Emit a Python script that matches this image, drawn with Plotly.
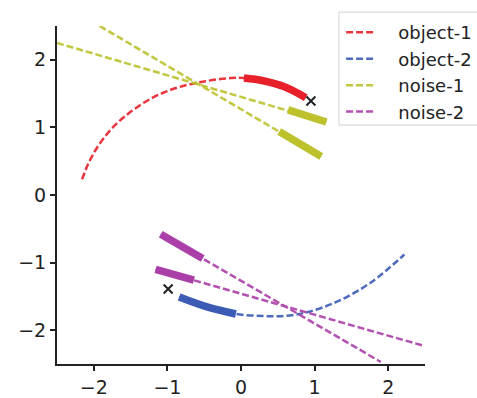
import plotly.graph_objects as go

# ---- data ----
obj1_x = [-2.16, -2.08, -1.95, -1.75, -1.5, -1.2, -0.86, -0.5, -0.14, 0.04, 0.3, 0.59, 0.88]
obj1_y = [0.23, 0.45, 0.71, 0.99, 1.23, 1.44, 1.59, 1.68, 1.73, 1.73, 1.69, 1.60, 1.44]
obj1_trk_x = [0.04, 0.3, 0.59, 0.88]
obj1_trk_y = [1.73, 1.69, 1.60, 1.44]
obj1_end = (0.95, 1.39)

obj2_x = [-0.84, -0.45, -0.07, 0.3, 0.59, 0.91, 1.32, 1.77, 2.22]
obj2_y = [-1.51, -1.66, -1.76, -1.79, -1.79, -1.73, -1.57, -1.29, -0.88]
obj2_trk_x = [-0.84, -0.45, -0.07]
obj2_trk_y = [-1.51, -1.66, -1.76]
obj2_end = (-0.99, -1.39)

noise1_x = [-2.5, 1.16, None, -1.92, 1.09]
noise1_y = [2.25, 1.08, None, 2.5, 0.57]
noise1_trk_x = [0.64, 1.16, None, 0.52, 1.09]
noise1_trk_y = [1.26, 1.08, None, 0.94, 0.57]

noise2_x = [-1.09, 1.9, None, -1.16, 2.48]
noise2_y = [-0.58, -2.47, None, -1.10, -2.23]
noise2_trk_x = [-1.09, -0.52, None, -1.16, -0.64]
noise2_trk_y = [-0.58, -0.94, None, -1.10, -1.26]

ticks = [-2, -1, 0, 1, 2]
tick_text = ["\u22122", "\u22121", "0", "1", "2"]

RED = "#e8202a"
BLUE = "#3b5bb5"
OLIVE = "#bcc12c"
PURPLE = "#ab3fa8"
DASH = "7px,3px"
PAD = "\u00a0\u00a0\u00a0"

fig = go.Figure()

def add_series(name, grp, color, xs, ys, txs, tys, shape, end=None):
    fig.add_trace(go.Scatter(x=xs, y=ys, mode="lines", name=PAD + name, legendgroup=grp,
                             line=dict(color=color, width=2.5, dash=DASH, shape=shape),
                             opacity=0.9, hoverinfo="skip"))
    fig.add_trace(go.Scatter(x=txs, y=tys, mode="lines", legendgroup=grp, showlegend=False,
                             line=dict(color=color, width=7.5, shape=shape), hoverinfo="skip"))
    if end is not None:
        fig.add_trace(go.Scatter(x=[end[0]], y=[end[1]], mode="markers", legendgroup=grp,
                                 showlegend=False,
                                 marker=dict(symbol="x-thin", size=9,
                                             line=dict(width=2, color="#222222")),
                                 hoverinfo="skip"))

add_series("object-1", "g1", RED, obj1_x, obj1_y, obj1_trk_x, obj1_trk_y, "spline", obj1_end)
add_series("object-2", "g2", BLUE, obj2_x, obj2_y, obj2_trk_x, obj2_trk_y, "spline", obj2_end)
add_series("noise-1", "g3", OLIVE, noise1_x, noise1_y, noise1_trk_x, noise1_trk_y, "linear")
add_series("noise-2", "g4", PURPLE, noise2_x, noise2_y, noise2_trk_x, noise2_trk_y, "linear")

axis_common = dict(
    showgrid=False, zeroline=False, showline=True, linecolor="#222222", linewidth=2,
    ticks="outside", ticklen=5, tickwidth=1.5, tickcolor="#222222",
    tickfont=dict(family="DejaVu Sans", size=19, color="#222222"),
    tickvals=ticks, ticktext=tick_text,
    range=[-2.5, 2.5], automargin=False,
)

fig.update_layout(
    width=477, height=398, autosize=False,
    margin=dict(l=57, r=52, t=26, b=34, autoexpand=False),
    paper_bgcolor="white", plot_bgcolor="white",
    xaxis=axis_common,
    yaxis=axis_common,
    showlegend=True,
    legend=dict(
        x=0.772, y=1.035, xanchor="left", yanchor="top",
        bgcolor="rgba(0,0,0,0)", borderwidth=0,
        font=dict(family="DejaVu Sans", size=18, color="#222222"),
        traceorder="grouped", tracegroupgap=0,
    ),
    shapes=[dict(type="rect", xref="paper", yref="paper",
                 x0=0.766, x1=1.16, y0=0.707, y1=1.041,
                 line=dict(color="#d0d0d0", width=1), fillcolor="rgba(0,0,0,0)",
                 layer="above")],
)

fig.write_html(
    "out.html",
    config={"responsive": False, "displayModeBar": False},
    post_script=("document.documentElement.style.overflow='hidden';"
                 "document.body.style.overflow='hidden';"
                 "document.body.style.margin='0';"),
)
